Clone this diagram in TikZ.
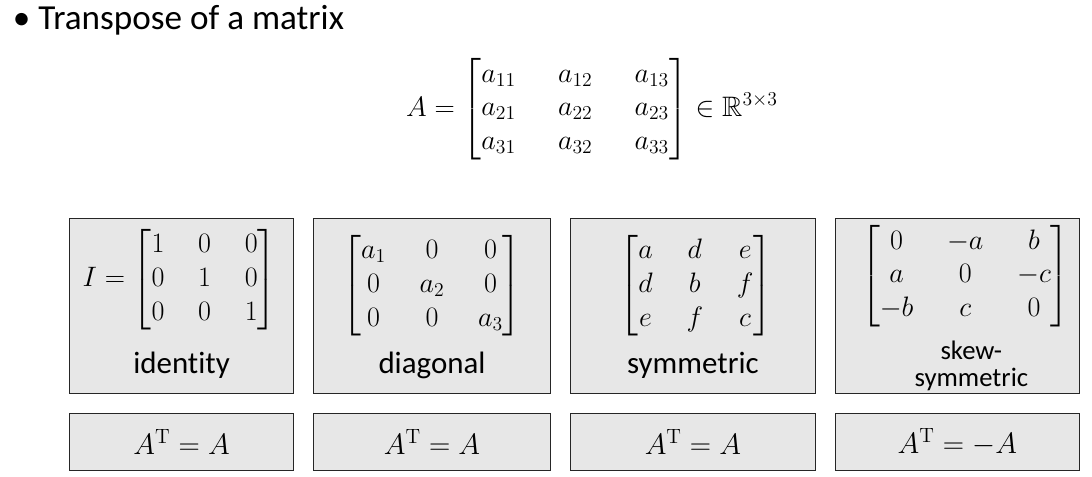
\documentclass[tikz,border=0pt]{standalone}
\usepackage{fix-cm}
\usepackage{amsmath,amssymb}
\usepackage[no-math]{fontspec}
\usetikzlibrary{positioning,calc}
\usepackage{xcolor}
\newfontfamily\calibri{Carlito}[Ligatures=NoCommon]
\definecolor{boxgray}{HTML}{E7E7E7}
\newcommand{\titlefont}{\calibri\fontsize{25}{30}\selectfont}
\newcommand{\kindfont}{\calibri\fontsize{22}{26}\selectfont}
\newcommand{\smallkindfont}{\calibri\fontsize{19}{19}\selectfont}
\newcommand{\matfont}{\fontsize{20}{24}\selectfont\arraycolsep=12pt}
\newcommand{\bigmatfont}{\fontsize{20}{24}\selectfont\arraycolsep=15pt}
\newcommand{\rulefont}{\fontsize{21}{25}\selectfont}

\begin{document}
\begin{tikzpicture}[
				node distance=0.47cm,
				card/.style={draw=black!85,line width=0.8pt,fill=boxgray,rectangle,minimum height=4.375cm,inner sep=0pt},
				law/.style={draw=black!85,line width=0.8pt,fill=boxgray,rectangle,minimum height=1.425cm,inner sep=0pt,font=\rulefont},
				kind/.style={anchor=base,font=\kindfont},
				mat/.style={font=\matfont,inner sep=0pt}
				]
				\useasboundingbox (0,0) rectangle (27.3,-11.925);
				
				% Title
				\node[anchor=base west,font=\titlefont] (title) at (0.2,-0.75) {• Transpose of a matrix};
				
				% Matrix A
				\node[mat,font=\bigmatfont] (defA) at (14.8,-2.725) {$A=\begin{bmatrix}a_{11}&a_{12}&a_{13}\\a_{21}&a_{22}&a_{23}\\a_{31}&a_{32}&a_{33}\end{bmatrix}\in\mathbb{R}^{3\times3}$};
				
				% Identity
				\node[card,minimum width=5.6cm,anchor=north west] (idbox) at (1.725,-5.45) {};
				\node[mat] (idmat) at ($(idbox.center)+(-0.05,0.66)$) {$I=\begin{bmatrix}1&0&0\\0&1&0\\0&0&1\end{bmatrix}$};
				\node[kind] (idname) at ($(idbox.center)+(0,-1.69)$) {identity};
				
				% Diagonal
				\node[card,minimum width=5.925cm,right=of idbox] (diagbox) {};
				\node[mat] (diagmat) at ($(diagbox.center)+(0,0.51)$) {$\begin{bmatrix}a_1&0&0\\0&a_2&0\\0&0&a_3\end{bmatrix}$};
				\node[kind] (diagname) at ($(diagbox.center)+(0,-1.69)$) {diagonal};
				
				% Symmetric
				\node[card,minimum width=6.125cm,right=of diagbox] (symbox) {};
				\node[mat] (symmat) at ($(symbox.center)+(0.075,0.51)$) {$\begin{bmatrix}a&d&e\\d&b&f\\e&f&c\end{bmatrix}$};
				\node[kind] (symname) at ($(symbox.center)+(0,-1.69)$) {symmetric};
				
				% Skew-symmetric
				\node[card,minimum width=6.1cm,right=of symbox] (skewbox) {};
				\node[mat] (skewmat) at ($(skewbox.center)+(0.2,0.75)$) {$\begin{bmatrix}0&-a&b\\a&0&-c\\-b&c&0\end{bmatrix}$};
				\node[font=\smallkindfont,align=center,inner sep=0pt] (skewname) at ($(skewbox.center)+(0.35,-1.5)$) {skew-\\symmetric};
				
				% Transpose rules
				\node[law,minimum width=5.6cm,below=0.475cm of idbox] (idlaw) {$A^{\mathrm{T}}=A$};
				\node[law,minimum width=5.925cm,below=0.475cm of diagbox] (diaglaw) {$A^{\mathrm{T}}=A$};
				\node[law,minimum width=6.125cm,below=0.475cm of symbox] (symlaw) {$A^{\mathrm{T}}=A$};
				\node[law,minimum width=6.1cm,below=0.475cm of skewbox] (skewlaw) {$A^{\mathrm{T}}=-A$};
				
			\end{tikzpicture}
\end{document}
